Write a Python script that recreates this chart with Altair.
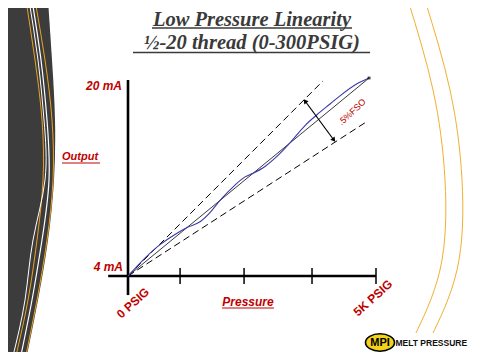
import math
import altair as alt
import pandas as pd

# ---------------- chart values (pressure in K PSIG, output in mA) ----------------
blue_pressure = [0.0, 0.343, 0.645, 0.948, 1.190, 1.452, 1.653, 1.855, 2.157, 2.359,
                 2.520, 2.762, 2.964, 3.266, 3.569, 3.810, 4.073, 4.274, 4.617, 4.859]
blue_output = [4.00, 5.45, 6.53, 7.36, 7.92, 8.38, 9.12, 10.11, 11.35, 12.01,
               12.30, 12.85, 13.52, 14.76, 16.16, 17.03, 17.90, 18.56, 19.53, 20.00]
ideal_pressure = [0.0, 4.86]
ideal_output = [4.0, 20.0]
upper_pressure = [0.0, 3.93]
upper_output = [4.0, 19.76]
lower_pressure = [0.0, 4.80]
lower_output = [4.0, 16.44]
tick_pressure = [1.05, 2.34, 3.71, 5.0]
arrow_pressure = [3.57, 4.15]
arrow_output = [18.14, 14.99]
x_axis_range = [-0.40, 5.0]
y_axis_range = [2.46, 19.84]

title_lines = ["Low Pressure Linearity", "½-20 thread (0-300PSIG)"]
y_labels = ["20 mA", "4 mA"]
x_labels = ["0 PSIG", "5K PSIG"]
band_label = ".5%FSO"

# ---------------- frame: pixel <-> data ----------------
PX_PER_K = 49.6
PX_PER_MA = 12.375


def px2x(p):
    return (p - 128) / PX_PER_K


def py2y(p):
    return 4 + (276 - p) / PX_PER_MA


X_MIN, X_MAX = px2x(8), px2x(472)
Y_MIN, Y_MAX = py2y(352), py2y(8)
xs = alt.Scale(domain=[X_MIN, X_MAX], nice=False, zero=False)
ys = alt.Scale(domain=[Y_MIN, Y_MAX], nice=False, zero=False)


def XF(f):
    return alt.X(f, type="quantitative", scale=xs, axis=None)


def YF(f):
    return alt.Y(f, type="quantitative", scale=ys, axis=None)


ONE = pd.DataFrame({"a": [0]})
RED = "#C00000"
GOLD = "#E8A320"
DARK = "#3c3c3c"

# ---------------- decoration paths (pixel rows) ----------------
deco_py = [0, 60, 120, 180, 240, 300, 360]
edge_px = [48, 52, 55, 54, 48, 38, 26]
gold_in_px = [26, 35, 42, 43, 37, 28, 15]
white1_px = [29, 38, 44, 45, 33, 25, 12]
white2_px = [32, 41, 47, 49, 42, 32, 20]
gold_out_px = [35, 45, 52, 53, 47, 37, 25]
arc_py = [0, 90, 180, 270, 335, 360]
arc1_px = [408, 433, 445, 440, 415, 406]
arc2_px = [425, 450, 462, 457, 432, 422]


def path_df(pxs, pys):
    return pd.DataFrame({"x": [px2x(p) for p in pxs], "y": [py2y(p) for p in pys],
                         "i": list(range(len(pxs)))})


def deco_line(pxs, pys, color, w):
    return alt.Chart(path_df(pxs, pys)).mark_line(
        color=color, strokeWidth=w, interpolate="natural").encode(
        x=XF("x"), y=YF("y"), order="i:Q")


layers = []
layers.append(
    alt.Chart(path_df(edge_px, deco_py)).mark_area(
        color=DARK, orient="horizontal", interpolate="natural").encode(
        x=XF("x"), x2=alt.X2(datum=X_MIN - 1), y=YF("y"))
)
layers.append(deco_line(gold_in_px, deco_py, GOLD, 1))
layers.append(deco_line(white1_px, deco_py, "white", 1))
layers.append(deco_line(white2_px, deco_py, "white", 1.2))
layers.append(deco_line(gold_out_px, deco_py, GOLD, 1))
layers.append(deco_line(arc1_px, arc_py, "#F0B030", 1))
layers.append(deco_line(arc2_px, arc_py, "#F0B030", 1))


def txt(s, x, y, **kw):
    return alt.Chart(ONE).mark_text(text=s, **kw).encode(x=alt.value(x - 8), y=alt.value(y - 8))


def hline(x1, x2, y, color, w):
    return alt.Chart(ONE).mark_rule(color=color, strokeWidth=w).encode(
        x=alt.value(x1 - 8), x2=alt.value(x2 - 8), y=alt.value(y - 8))


# white box behind logo
layers.append(alt.Chart(ONE).mark_rect(color="white").encode(
    x=alt.value(364 - 8), x2=alt.value(472 - 8), y=alt.value(333 - 8), y2=alt.value(352 - 8)))

# title
tstyle = dict(font="Liberation Serif", fontStyle="italic", fontWeight="bold",
              color="#3a3a3a", align="center", baseline="alphabetic")
layers.append(txt(title_lines[0], 252, 25.5, fontSize=20.5, **tstyle))
layers.append(txt(title_lines[1], 252, 48.5, fontSize=20.5, **tstyle))
layers.append(hline(152, 352, 28, "#3a3a3a", 1.3))
layers.append(hline(133, 370, 52.5, "#3a3a3a", 1.3))

# axes
layers.append(alt.Chart(ONE).mark_rule(color="black", strokeWidth=2.6).encode(
    x=alt.X(datum=x_axis_range[0], scale=xs, axis=None), x2=alt.X2(datum=x_axis_range[1]),
    y=alt.Y(datum=4, scale=ys, axis=None)))
layers.append(alt.Chart(ONE).mark_rule(color="black", strokeWidth=2.6).encode(
    x=alt.X(datum=0, scale=xs, axis=None),
    y=alt.Y(datum=y_axis_range[0], scale=ys, axis=None), y2=alt.Y2(datum=y_axis_range[1])))
layers.append(alt.Chart(pd.DataFrame({"p": tick_pressure})).mark_rule(
    color="black", strokeWidth=1.5).encode(x=XF("p"), y=alt.value(268 - 8), y2=alt.value(284 - 8)))

# band (dashed) lines
band_df = pd.DataFrame({
    "p": upper_pressure + lower_pressure,
    "o": upper_output + lower_output,
    "b": ["upper"] * 2 + ["lower"] * 2,
})
layers.append(alt.Chart(band_df).mark_line(color="black", strokeWidth=1, strokeDash=[7, 4]).encode(
    x=XF("p"), y=YF("o"), detail="b:N"))

# ideal line
layers.append(alt.Chart(pd.DataFrame({"p": ideal_pressure, "o": ideal_output})).mark_line(
    color="#222222", strokeWidth=0.9).encode(x=XF("p"), y=YF("o")))

# measured curve
layers.append(alt.Chart(pd.DataFrame({"p": blue_pressure, "o": blue_output})).mark_line(
    color="#3a3aa8", strokeWidth=1.1, interpolate="monotone").encode(x=XF("p"), y=YF("o")))

# end marker
layers.append(alt.Chart(pd.DataFrame({"p": ideal_pressure[-1:], "o": ideal_output[-1:]})).mark_point(
    shape="cross", filled=True, color="black", size=14, angle=45).encode(x=XF("p"), y=YF("o")))

# arrow
arrow_df = pd.DataFrame({"p": arrow_pressure, "o": arrow_output})
layers.append(alt.Chart(arrow_df).mark_line(color="black", strokeWidth=1.2).encode(
    x=XF("p"), y=YF("o")))
dxp = (arrow_pressure[1] - arrow_pressure[0]) * PX_PER_K
dyp = -(arrow_output[1] - arrow_output[0]) * PX_PER_MA
ang_end = math.degrees(math.atan2(dxp, -dyp)) % 360
ang_start = (ang_end + 180) % 360
for k, ang in ((0, ang_start), (1, ang_end)):
    layers.append(alt.Chart(arrow_df.iloc[[k]]).mark_point(
        shape="triangle-up", filled=True, color="black", size=28, angle=ang, opacity=1).encode(
        x=XF("p"), y=YF("o")))

# labels
lab = dict(font="Liberation Sans", fontWeight="bold", color=RED)
layers.append(txt(y_labels[0], 122, 86, fontSize=12, fontStyle="italic", align="right", baseline="middle", **lab))
layers.append(txt(y_labels[1], 123, 267, fontSize=12, fontStyle="italic", align="right", baseline="middle", **lab))
layers.append(txt("Output", 62, 157, fontSize=11, fontStyle="italic", align="left", baseline="middle", **lab))
layers.append(hline(62, 100, 163, RED, 1))
layers.append(txt("Pressure", 248, 302, fontSize=12, fontStyle="italic", align="center", baseline="middle", **lab))
layers.append(hline(222, 274, 308, RED, 1))
layers.append(txt(x_labels[0], 133, 303, fontSize=12, angle=318, align="center", baseline="middle", **lab))
layers.append(txt(x_labels[1], 373, 298, fontSize=12, angle=318, align="center", baseline="middle", **lab))
layers.append(txt(band_label, 352, 112, fontSize=9, angle=317, align="center", baseline="middle",
                  font="Liberation Sans", color=RED))

# logo
layers.append(alt.Chart(ONE).mark_point(
    shape="M -1 0 A 1 0.6 0 1 1 1 0 A 1 0.6 0 1 1 -1 0 Z", size=841, filled=True,
    fill="#F2D21B", stroke="black", strokeWidth=1.6, opacity=1).encode(
    x=alt.value(380 - 8), y=alt.value(342.5 - 8)))
layers.append(txt("MPI", 380, 343, fontSize=11, fontWeight="bold", font="Liberation Sans",
                  color="black", align="center", baseline="middle"))
layers.append(txt("MELT PRESSURE", 395.5, 343, fontSize=8.5, fontWeight="bold", font="Liberation Sans",
                  color="#111111", align="left", baseline="middle"))

chart = alt.layer(*layers).properties(
    width=464, height=344, padding=0, autosize=alt.AutoSizeParams(type="none"),
    background="white",
).configure_view(stroke=None)

chart.save("out.html", embed_options={"renderer": "svg", "actions": False})
